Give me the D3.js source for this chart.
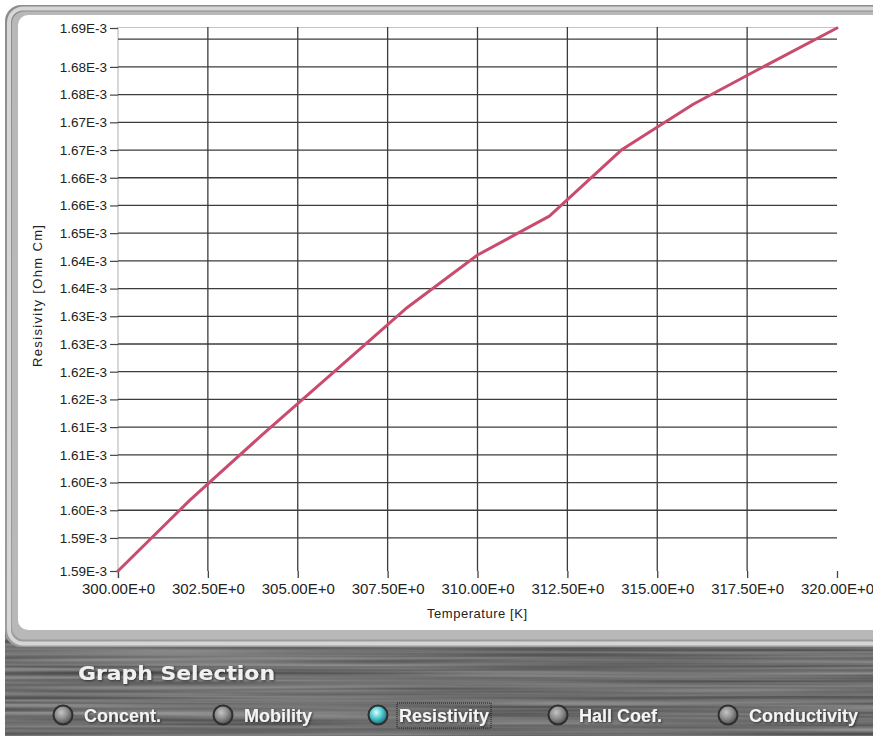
<!DOCTYPE html>
<html>
<head>
<meta charset="utf-8">
<script src="https://cdn.jsdelivr.net/npm/d3@7"></script>
<style>
  body { margin: 0; background: #fff; }
  svg { display: block; }
</style>
</head>
<body>
<svg id="chart" width="873" height="736"></svg>
<script>
// temperature [K] and resistivity [Ohm cm]
const temperature = [300, 302, 304, 306, 308, 310, 312, 314, 316, 318, 320];
const resistivity = [1.5866e-3, 1.5999e-3, 1.6121e-3, 1.6239e-3, 1.6358e-3, 1.6459e-3,
                     1.6532e-3, 1.6656e-3, 1.6742e-3, 1.6814e-3, 1.6885e-3];

const yMin = 1.5866e-3;
const yMax = 1.6885e-3;
const yGridValues = [1.5928e-3, 1.5980e-3, 1.6032e-3, 1.6084e-3, 1.6136e-3, 1.6188e-3, 1.6240e-3,
                     1.6292e-3, 1.6344e-3, 1.6396e-3, 1.6448e-3, 1.6500e-3, 1.6552e-3, 1.6604e-3,
                     1.6656e-3, 1.6708e-3, 1.6760e-3, 1.6812e-3, 1.6864e-3];
const yTickLabels = ["1.59E-3", "1.59E-3", "1.60E-3", "1.60E-3", "1.61E-3", "1.61E-3", "1.62E-3",
                     "1.62E-3", "1.63E-3", "1.63E-3", "1.64E-3", "1.64E-3", "1.65E-3", "1.66E-3",
                     "1.66E-3", "1.67E-3", "1.67E-3", "1.68E-3", "1.68E-3", "1.69E-3"];
const xTickValues = [300, 302.5, 305, 307.5, 310, 312.5, 315, 317.5, 320];
const xTickLabels = ["300.00E+0", "302.50E+0", "305.00E+0", "307.50E+0", "310.00E+0",
                     "312.50E+0", "315.00E+0", "317.50E+0", "320.00E+0"];
const graphButtons = ["Concent.", "Mobility", "Resistivity", "Hall Coef.", "Conductivity"];
const selectedGraph = "Resistivity";

const svg = d3.select("#chart");
const W = +svg.attr("width");
const H = +svg.attr("height");
const plot = {left: 118, right: 837, top: 28, bottom: 571};

const defs = svg.append("defs");

// brushed metal look for the selection panel
const brush = defs.append("filter").attr("id", "brush")
    .attr("x", 0).attr("y", 0).attr("width", 1).attr("height", 1)
    .attr("color-interpolation-filters", "sRGB");
brush.append("feTurbulence")
    .attr("type", "fractalNoise")
    .attr("baseFrequency", "0.0025 0.25")
    .attr("numOctaves", 2)
    .attr("seed", 4);
brush.append("feColorMatrix")
    .attr("type", "matrix")
    .attr("values", "0.42 0 0 0 0.23  0.42 0 0 0 0.23  0.42 0 0 0 0.23  0 0 0 0 1");

const knob = defs.append("radialGradient").attr("id", "knob")
    .attr("cx", "40%").attr("cy", "35%").attr("r", "65%");
knob.append("stop").attr("offset", "0%").attr("stop-color", "#c4c4c4");
knob.append("stop").attr("offset", "60%").attr("stop-color", "#8a8a8a");
knob.append("stop").attr("offset", "100%").attr("stop-color", "#5a5a5a");

const knobOn = defs.append("radialGradient").attr("id", "knobOn")
    .attr("cx", "40%").attr("cy", "35%").attr("r", "65%");
knobOn.append("stop").attr("offset", "0%").attr("stop-color", "#d8ffff");
knobOn.append("stop").attr("offset", "55%").attr("stop-color", "#4fc8cf");
knobOn.append("stop").attr("offset", "100%").attr("stop-color", "#217c84");

const topBand = defs.append("linearGradient").attr("id", "band")
    .attr("x1", 0).attr("y1", 0).attr("x2", 0).attr("y2", 1);
topBand.append("stop").attr("offset", "0%").attr("stop-color", "#8c8c8c");
topBand.append("stop").attr("offset", "100%").attr("stop-color", "#9c9c9c");

const shadow = defs.append("filter").attr("id", "shadow");
shadow.append("feDropShadow")
    .attr("dx", 1).attr("dy", 1).attr("stdDeviation", 0.8)
    .attr("flood-color", "#222").attr("flood-opacity", 0.8);

// panel background
svg.append("rect").attr("width", W).attr("height", H).attr("fill", "#fff");
svg.append("rect")
    .attr("x", 5).attr("y", 600).attr("width", W).attr("height", H - 600)
    .attr("filter", "url(#brush)");

// bevelled frame round the graph
svg.append("rect").attr("x", 5).attr("y", 5).attr("width", 900).attr("height", 642)
    .attr("rx", 16).attr("fill", "url(#band)");
svg.append("rect").attr("x", 9).attr("y", 8.5).attr("width", 900).attr("height", 635)
    .attr("rx", 14).attr("fill", "none").attr("stroke", "#d6d6d6").attr("stroke-width", 4);
svg.append("rect").attr("x", 12).attr("y", 11.5).attr("width", 900).attr("height", 628)
    .attr("rx", 12).attr("fill", "#b8b8b8");
svg.append("rect").attr("x", 18).attr("y", 15).attr("width", 900).attr("height", 615)
    .attr("rx", 10).attr("fill", "#fff");

const x = d3.scaleLinear().domain([300, 320]).range([plot.left, plot.right]);
const y = d3.scaleLinear().domain([yMin, yMax]).range([plot.bottom, plot.top]);

// light frame lines (left and top)
svg.append("line")
    .attr("x1", plot.left).attr("x2", plot.right)
    .attr("y1", plot.top - 0.5).attr("y2", plot.top - 0.5)
    .attr("stroke", "#c4c4c4").attr("stroke-width", 1.2);
svg.append("line")
    .attr("x1", plot.left).attr("x2", plot.left)
    .attr("y1", plot.top - 1).attr("y2", plot.bottom + 7)
    .attr("stroke", "#bdbdbd").attr("stroke-width", 1.2);

// horizontal grid
svg.append("g").selectAll("line")
    .data(yGridValues)
    .join("line")
    .attr("x1", plot.left).attr("x2", plot.right)
    .attr("y1", d => y(d)).attr("y2", d => y(d))
    .attr("stroke", "#3c3c3c").attr("stroke-width", 1.3);

// vertical grid
svg.append("g").selectAll("line")
    .data(xTickValues.slice(1, -1))
    .join("line")
    .attr("x1", d => x(d)).attr("x2", d => x(d))
    .attr("y1", plot.top - 1).attr("y2", plot.bottom)
    .attr("stroke", "#3c3c3c").attr("stroke-width", 1.3);

// y axis
const yLabelValues = [yMin].concat(yGridValues.slice(0, -1), [yMax]);
const yAxis = svg.append("g")
    .attr("transform", `translate(${plot.left},0)`)
    .call(d3.axisLeft(y).tickValues(yLabelValues)
        .tickFormat((d, i) => yTickLabels[i])
        .tickSize(8).tickPadding(3));
yAxis.select(".domain").remove();
yAxis.selectAll("line").attr("stroke", "#444").attr("stroke-width", 1.2);
yAxis.selectAll("text")
    .attr("fill", "#222")
    .style("font-family", "'Liberation Sans', Arial, sans-serif")
    .style("font-size", "13.5px");

// x axis
const xAxis = svg.append("g")
    .attr("transform", `translate(0,${plot.bottom})`)
    .call(d3.axisBottom(x).tickValues(xTickValues)
        .tickFormat((d, i) => xTickLabels[i])
        .tickSize(7).tickPadding(5));
xAxis.select(".domain").remove();
xAxis.selectAll("line").attr("stroke", "#444").attr("stroke-width", 1.3);
xAxis.selectAll("text")
    .attr("fill", "#222")
    .style("font-family", "'Liberation Sans', Arial, sans-serif")
    .style("font-size", "15px");

// axis titles
svg.append("text")
    .attr("x", 477).attr("y", 618)
    .attr("text-anchor", "middle")
    .attr("textLength", 100).attr("lengthAdjust", "spacing")
    .style("font-family", "'Liberation Sans', Arial, sans-serif")
    .style("font-size", "13px")
    .attr("fill", "#222")
    .text("Temperature [K]");

svg.append("text")
    .attr("transform", "translate(42,296) rotate(-90)")
    .attr("text-anchor", "middle")
    .attr("textLength", 142).attr("lengthAdjust", "spacing")
    .style("font-family", "'Liberation Sans', Arial, sans-serif")
    .style("font-size", "13px")
    .attr("fill", "#222")
    .text("Resisivity [Ohm Cm]");

// resistivity curve
const points = temperature.map((t, i) => ({t: t, r: resistivity[i]}));
svg.append("path")
    .datum(points)
    .attr("fill", "none")
    .attr("stroke", "#c94b6d")
    .attr("stroke-width", 3)
    .attr("stroke-linejoin", "round")
    .attr("stroke-linecap", "round")
    .attr("d", d3.line().x(d => x(d.t)).y(d => y(d.r)));

// graph selection panel
svg.append("text")
    .attr("x", 78).attr("y", 680)
    .attr("textLength", 197).attr("lengthAdjust", "spacingAndGlyphs")
    .style("font-family", "'DejaVu Sans', sans-serif")
    .style("font-weight", "bold")
    .style("font-size", "20px")
    .attr("fill", "#f0f0f0")
    .attr("filter", "url(#shadow)")
    .text("Graph Selection");

const buttonX = [63, 223, 378, 558, 728];
const btn = svg.append("g").selectAll("g")
    .data(graphButtons)
    .join("g")
    .attr("transform", (d, i) => `translate(${buttonX[i]},715)`);

btn.append("circle")
    .attr("r", 10.5)
    .attr("fill", "#2e2e2e");
btn.append("circle")
    .attr("r", 8.5)
    .attr("fill", d => d === selectedGraph ? "url(#knobOn)" : "url(#knob)");

btn.append("text")
    .attr("x", 21).attr("y", 7)
    .style("font-family", "'Liberation Sans', Arial, sans-serif")
    .style("font-weight", "bold")
    .style("font-size", "18px")
    .attr("fill", "#f4f4f4")
    .attr("filter", "url(#shadow)")
    .text(d => d);

// focus outline on the selected entry
btn.filter(d => d === selectedGraph).each(function() {
    const g = d3.select(this);
    const bb = g.select("text").node().getBBox();
    g.append("rect")
        .attr("x", bb.x - 2).attr("y", -12)
        .attr("width", bb.width + 4).attr("height", 25)
        .attr("fill", "none")
        .attr("stroke", "#1a1a1a")
        .attr("stroke-width", 1)
        .attr("stroke-dasharray", "1,1");
});
</script>
</body>
</html>
